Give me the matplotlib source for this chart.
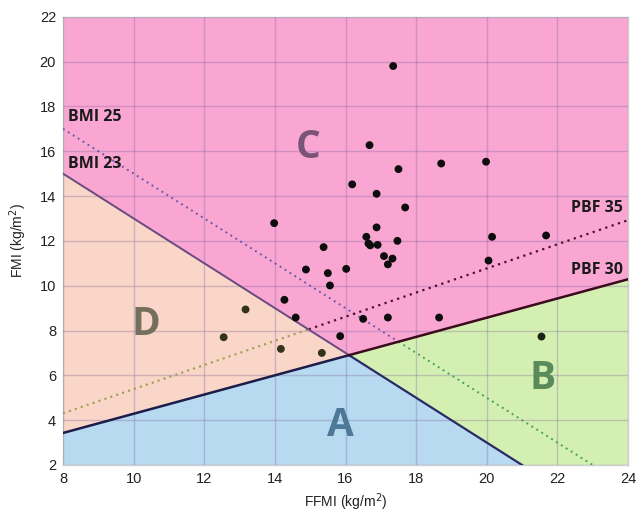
import numpy as np
import matplotlib
matplotlib.use("Agg")
import matplotlib.pyplot as plt

# ---- data ----
ffmi = [17.35, 16.68, 17.50, 18.71, 19.98, 16.19, 16.88, 17.69, 13.98, 16.88,
        16.59, 16.65, 16.70, 16.91, 17.47, 15.38, 17.09, 17.33, 17.20, 14.88,
        16.02, 15.50, 15.56, 14.27, 14.59, 16.50, 17.20, 18.65, 15.85, 20.15,
        21.68, 20.05, 21.55, 13.17, 12.55, 14.17, 15.33]
fmi = [19.80, 16.27, 15.20, 15.45, 15.53, 14.52, 14.10, 13.49, 12.79, 12.60,
       12.18, 11.88, 11.80, 11.82, 12.00, 11.72, 11.32, 11.21, 10.95, 10.72,
       10.75, 10.56, 10.01, 9.37, 8.58, 8.52, 8.58, 8.58, 7.75, 12.18,
       12.24, 11.12, 7.73, 8.94, 7.70, 7.18, 7.00]

bmi_lines = [23, 25]        # FMI = BMI - FFMI
pbf_lines = [30, 35]        # FMI = p/(100-p) * FFMI
region_labels = ["A", "B", "C", "D"]
x_ticks = [8, 10, 12, 14, 16, 18, 20, 22, 24]
y_ticks = [2, 4, 6, 8, 10, 12, 14, 16, 18, 20, 22]

# ---- figure ----
fig = plt.figure(figsize=(6.44, 5.12), dpi=100)
ax = fig.add_axes([63/644, 1-465/512, (628-63)/644, (465-16.7)/512])
xmin, xmax, ymin, ymax = 8, 24, 2, 22
ax.set_xlim(xmin, xmax)
ax.set_ylim(ymin, ymax)

x = np.linspace(xmin, xmax, 801)
bmi23 = bmi_lines[0] - x
bmi25 = bmi_lines[1] - x
k30 = pbf_lines[0] / (100 - pbf_lines[0])
k35 = pbf_lines[1] / (100 - pbf_lines[1])
pbf30 = k30 * x
pbf35 = k35 * x

c_pink = "#F9A6D2"
c_peach = "#F9D6C8"
c_blue = "#B7DAF0"
c_green = "#D4EFB2"

lo = np.minimum(bmi23, pbf30)
hi = np.maximum(bmi23, pbf30)
ax.fill_between(x, ymin, np.clip(lo, ymin, ymax), color=c_blue, lw=0, zorder=0)
ax.fill_between(x, np.clip(hi, ymin, ymax), ymax, color=c_pink, lw=0, zorder=0)
ax.fill_between(x, np.clip(pbf30, ymin, ymax), np.clip(bmi23, ymin, ymax),
                where=bmi23 >= pbf30, color=c_peach, lw=0, zorder=0, interpolate=True)
ax.fill_between(x, np.clip(bmi23, ymin, ymax), np.clip(pbf30, ymin, ymax),
                where=pbf30 >= bmi23, color=c_green, lw=0, zorder=0, interpolate=True)

# grid
ax.set_xticks(x_ticks)
ax.set_yticks(y_ticks)
ax.grid(True, color="#7a5a9a", alpha=0.30, lw=1.0, zorder=1)
ax.set_axisbelow(False)

# intersection points
x_c = bmi_lines[0] / (1 + k30)          # bmi23 & pbf30
x_25 = bmi_lines[1] / (1 + k30)         # bmi25 & pbf30
x_35 = bmi_lines[0] / (1 + k35)         # bmi23 & pbf35

# BMI 25 dotted
m = x <= x_25
ax.plot(x[m], bmi25[m], ls=(0, (1, 2)), lw=1.4, color="#6a5aa8", zorder=3)
m = (x >= x_25) & (bmi25 >= ymin)
ax.plot(x[m], bmi25[m], ls=(0, (1, 2)), lw=1.4, color="#4aa060", zorder=3)
# PBF 35 dotted
m = x <= x_35
ax.plot(x[m], pbf35[m], ls=(0, (1, 2)), lw=1.5, color="#9aa050", zorder=3)
m = x >= x_35
ax.plot(x[m], pbf35[m], ls=(0, (1, 2)), lw=1.6, color="#4a1030", zorder=3)
# BMI 23 solid
m = x <= x_c
ax.plot(x[m], bmi23[m], lw=1.4, color="#6a4a80", zorder=4)
m = (x >= x_c) & (bmi23 >= ymin)
ax.plot(x[m], bmi23[m], lw=1.6, color="#2a2a66", zorder=4)
# PBF 30 solid
m = x <= x_c
ax.plot(x[m], pbf30[m], lw=1.8, color="#1c1c4a", zorder=4)
m = x >= x_c
ax.plot(x[m], pbf30[m], lw=1.8, color="#3a0a1e", zorder=4)

# points coloured by region
pt_colors = []
for fx, fy in zip(ffmi, fmi):
    above_b = fy > bmi_lines[0] - fx
    above_p = fy > k30 * fx
    if above_b and above_p:
        pt_colors.append("#0d0d0d")
    elif above_p:
        pt_colors.append("#34321a")
    elif above_b:
        pt_colors.append("#1a2414")
    else:
        pt_colors.append("#101030")
ax.scatter(ffmi, fmi, s=32, c=pt_colors, edgecolors="none", zorder=6)

# region letters
lab_font = dict(fontsize=28, fontweight="bold", family=["Open Sans", "DejaVu Sans"],
                ha="center", va="center", zorder=5)
ax.text(14.94, 16.18, region_labels[2], color="#7a5478", **lab_font)
ax.text(10.35, 8.28, region_labels[3], color="#75705e", **lab_font)
ax.text(15.87, 3.77, region_labels[0], color="#4e7898", **lab_font)
ax.text(21.57, 5.87, region_labels[1], color="#5a8a5a", **lab_font)

# line labels
lf = dict(fontsize=11.5, fontweight="bold", family=["Open Sans", "DejaVu Sans"],
          color="#1a1a1a", zorder=5)
ax.text(8.14, 17.52, f"BMI {bmi_lines[1]}", ha="left", va="center", **lf)
ax.text(8.14, 15.42, f"BMI {bmi_lines[0]}", ha="left", va="center", **lf)
ax.text(23.86, 13.45, f"PBF {pbf_lines[1]}", ha="right", va="center", **lf)
ax.text(23.86, 10.72, f"PBF {pbf_lines[0]}", ha="right", va="center", **lf)

# axes styling
for s in ax.spines.values():
    s.set_color("#cfcfcf")
    s.set_linewidth(1.0)
ax.tick_params(length=0, pad=5, labelsize=10.5, labelcolor="#222222")
for lbl in ax.get_xticklabels() + ax.get_yticklabels():
    lbl.set_family(["Liberation Sans", "DejaVu Sans"])
ax.set_xlabel("FFMI (kg/m$^2$)", fontsize=10, family=["Liberation Sans", "DejaVu Sans"],
              color="#222222", labelpad=4)
ax.set_ylabel("FMI (kg/m$^2$)", fontsize=10, family=["Liberation Sans", "DejaVu Sans"],
              color="#222222", labelpad=8)

fig.savefig("out.png", dpi=100, facecolor="white")
